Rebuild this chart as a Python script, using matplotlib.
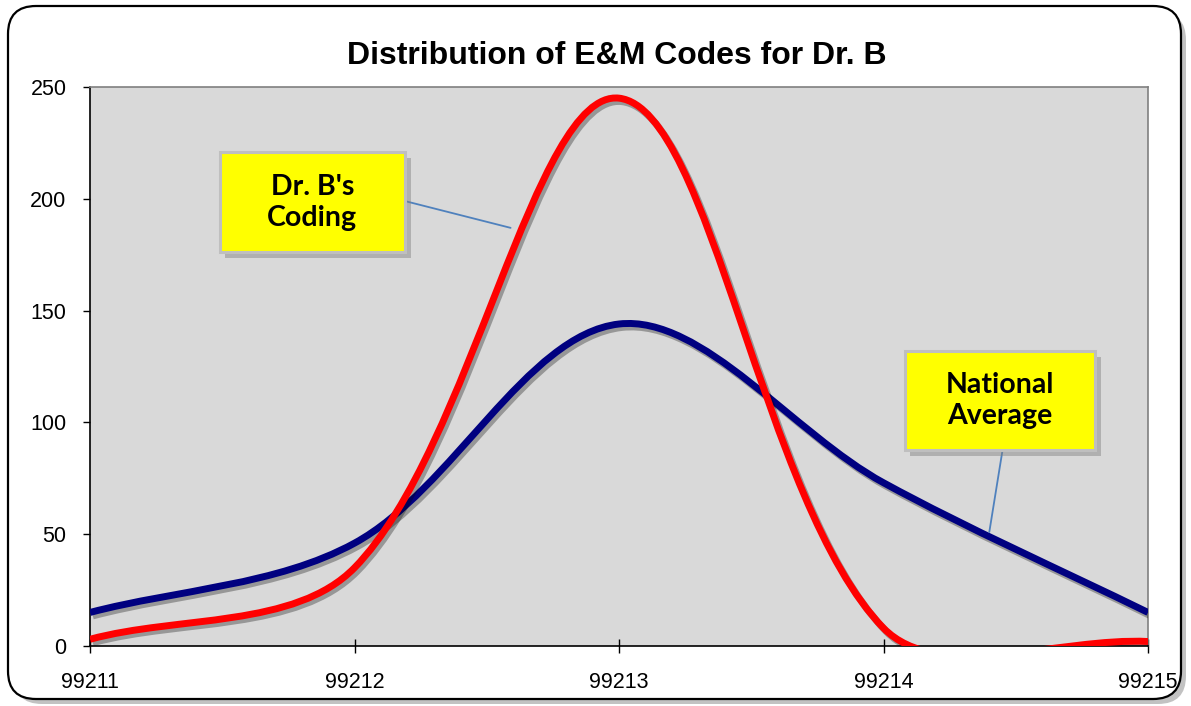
import numpy as np
import matplotlib
matplotlib.use('Agg')
import matplotlib.pyplot as plt
import matplotlib.patches as patches
import matplotlib.patheffects as pe
from matplotlib.path import Path
from matplotlib.transforms import IdentityTransform

codes = [99211, 99212, 99213, 99214, 99215]
dr_b = [3, 35, 245, 8, 2]
national = [15, 46, 144, 73, 15]
y_ticks = [0, 50, 100, 150, 200, 250]


def smooth_path(ax, xs, ys):
    """Excel-style smoothed line: Bezier handles scaled by screen distances."""
    pts = np.column_stack([xs, ys]).astype(float)
    scr = ax.transData.transform(pts)
    n = len(pts)
    verts = [pts[0]]
    path_codes = [Path.MOVETO]
    for i in range(n - 1):
        i0, i1, i2, i3 = max(i - 1, 0), i, i + 1, min(i + 2, n - 1)
        f0 = np.hypot(*(scr[i1] - scr[i0]))
        f1 = np.hypot(*(scr[i2] - scr[i1]))
        f2 = np.hypot(*(scr[i3] - scr[i2]))
        c1 = pts[i1] + (pts[i2] - pts[i0]) * f1 / (f0 + f1) / 3.0
        c2 = pts[i2] - (pts[i3] - pts[i1]) * f1 / (f1 + f2) / 3.0
        verts += [c1, c2, pts[i2]]
        path_codes += [Path.CURVE4] * 3
    return Path(verts, path_codes)


fig = plt.figure(figsize=(11.91, 7.06), dpi=100)
fig.patch.set_facecolor('white')

# rounded outer frame with a soft shadow
frame_shadow = patches.FancyBboxPatch(
    (14, 2), 1172, 692, boxstyle='round,pad=0,rounding_size=28',
    transform=IdentityTransform(), facecolor='#9a9a9a', edgecolor='none',
    alpha=0.6, zorder=-2)
frame = patches.FancyBboxPatch(
    (8, 7), 1173, 693, boxstyle='round,pad=0,rounding_size=28',
    transform=IdentityTransform(), facecolor='white', edgecolor='black',
    linewidth=1.6, zorder=-1)
fig.patches.extend([frame_shadow, frame])

ax = fig.add_axes([0.0756, 0.085, 0.8883, 0.7918])
ax.set_facecolor('#D9D9D9')
ax.set_xlim(codes[0], codes[-1])
ax.set_ylim(0, 250)

shadow = [pe.SimpleLineShadow(offset=(2, -2.5), shadow_color='black', alpha=0.3),
          pe.Normal()]
for series, color in [(national, '#000080'), (dr_b, '#FF0000')]:
    patch = patches.PathPatch(smooth_path(ax, codes, series), fill=False,
                              edgecolor=color, linewidth=5.0,
                              capstyle='butt', zorder=3)
    patch.set_path_effects(shadow)
    ax.add_patch(patch)

ax.set_xticks(codes)
ax.set_xticklabels([str(c) for c in codes])
ax.set_yticks(y_ticks)

for side in ['left', 'bottom']:
    ax.spines[side].set_color('black')
    ax.spines[side].set_linewidth(1.2)
for side in ['top', 'right']:
    ax.spines[side].set_color('#808080')
    ax.spines[side].set_linewidth(1.2)

ax.tick_params(axis='y', direction='out', length=5, width=1, pad=12,
               labelsize=15.5)
ax.tick_params(axis='x', direction='inout', length=10, width=1, pad=14,
               labelsize=15.5)
for lab in ax.get_xticklabels() + ax.get_yticklabels():
    lab.set_family('Liberation Sans')

fig.text(0.518, 0.921, 'Distribution of E&M Codes for Dr. B',
         ha='center', va='center', fontsize=23, fontweight='bold',
         family='Liberation Sans')

# callout boxes (data coordinates of the box corners)
callouts = [
    ("Dr. B's\nCoding", (99211.49, 176), 0.70, 45, (99212.19, 199), (99212.59, 187)),
    ('National\nAverage', (99214.08, 87.6), 0.72, 44.2, (99214.45, 87.6), (99214.40, 51)),
]
for label, (bx, by), bw, bh, start, end in callouts:
    ax.annotate('', xy=end, xytext=start,
                arrowprops=dict(arrowstyle='-', color='#4F81BD', lw=1.3,
                                shrinkA=0, shrinkB=0), zorder=4)
    box = patches.Rectangle((bx, by), bw, bh, facecolor='#FFFF00',
                            edgecolor='#BFBFBF', linewidth=2.2, zorder=5)
    box_shadow = patches.Rectangle((bx + 0.022, by - 2.6), bw, bh,
                                   facecolor='#7f7f7f', edgecolor='none',
                                   alpha=0.45, zorder=4.5)
    ax.add_patch(box_shadow)
    ax.add_patch(box)
    ax.text(bx + bw / 2, by + bh / 2, label, ha='center', va='center',
            fontsize=20.5, fontweight='bold', family='Lato', linespacing=1.25,
            zorder=6)

fig.savefig('out.png', dpi=100)
